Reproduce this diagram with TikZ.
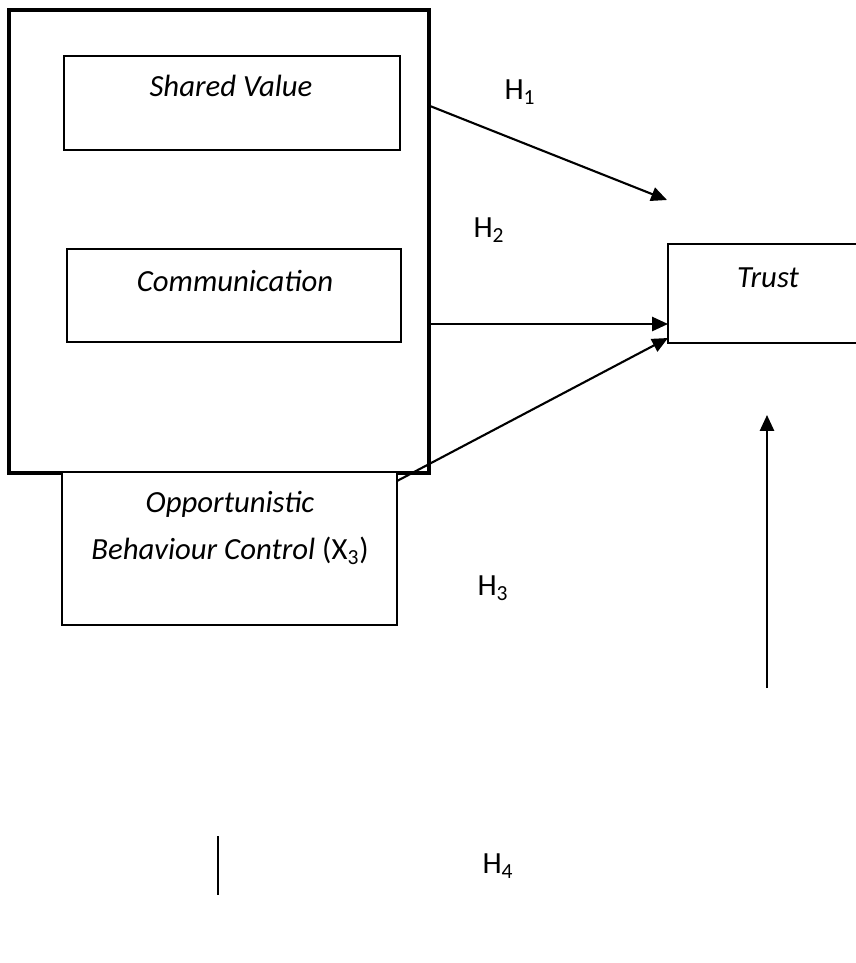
\documentclass[tikz,border=0pt]{standalone}
\usepackage{fontspec}
\setmainfont{Carlito}
\usetikzlibrary{arrows.meta}

\begin{document}
\begin{tikzpicture}[x=0.02cm, y=-0.02cm,
    every node/.style={font=\fontsize{17.5}{27}\selectfont},
    box/.style={draw, line width=1.1pt, fill=white, inner sep=0pt},
    link/.style={draw, line width=1.2pt, -{Triangle[length=9pt, width=8pt]}}]

  \useasboundingbox (0,0) rectangle (855,963);

  % variable boxes
  \node[box, line width=1.8pt, minimum width=8.4cm, minimum height=9.26cm] (outer) at (219,241.5) {};
  \node[box, minimum width=6.72cm, minimum height=1.88cm] (sv) at (232,103) {};
  \node[box, minimum width=6.68cm, minimum height=1.86cm] (com) at (234,295.5) {};
  \node[box, minimum width=4.64cm, minimum height=1.98cm] (trust) at (784,293.5) {};

  \node (svtext)  at (231,86)  {\itshape Shared Value};
  \node (comtext) at (235,281) {\itshape Communication};
  \node (trusttext) at (768,278) {\itshape Trust};

  % end points of the paths
  \coordinate (h1s) at (430,106);
  \coordinate (h1e) at (667,200);
  \coordinate (h2s) at (430,324);
  \coordinate (h2e) at (668,324);
  \coordinate (h3s) at (397,481);
  \coordinate (h3e) at (668,338);
  \coordinate (h4s) at (767,688);
  \coordinate (h4e) at (767,415);
  \coordinate (cuta) at (218,836);
  \coordinate (cutb) at (218,895);

  \path[link] (h1s) -- (h1e);
  \path[link] (h2s) -- (h2e);
  \path[link] (h3s) -- (h3e);
  \path[link] (h4s) -- (h4e);
  \draw[line width=0.9pt] (cuta) -- (cutb);

  \node[box, minimum width=6.7cm, minimum height=3.06cm] (opb) at (229.5,548.5) {};
  \node[align=center] (opbtext) at (230,528) {\itshape Opportunistic\\ \textit{Behaviour Control} (X\textsubscript{3})};

  % hypotheses
  \node (h1) at (520,92)  {H\textsubscript{1}};
  \node (h2) at (489,230) {H\textsubscript{2}};
  \node (h3) at (493,588) {H\textsubscript{3}};
  \node (h4) at (498,866) {H\textsubscript{4}};

\end{tikzpicture}
\end{document}
